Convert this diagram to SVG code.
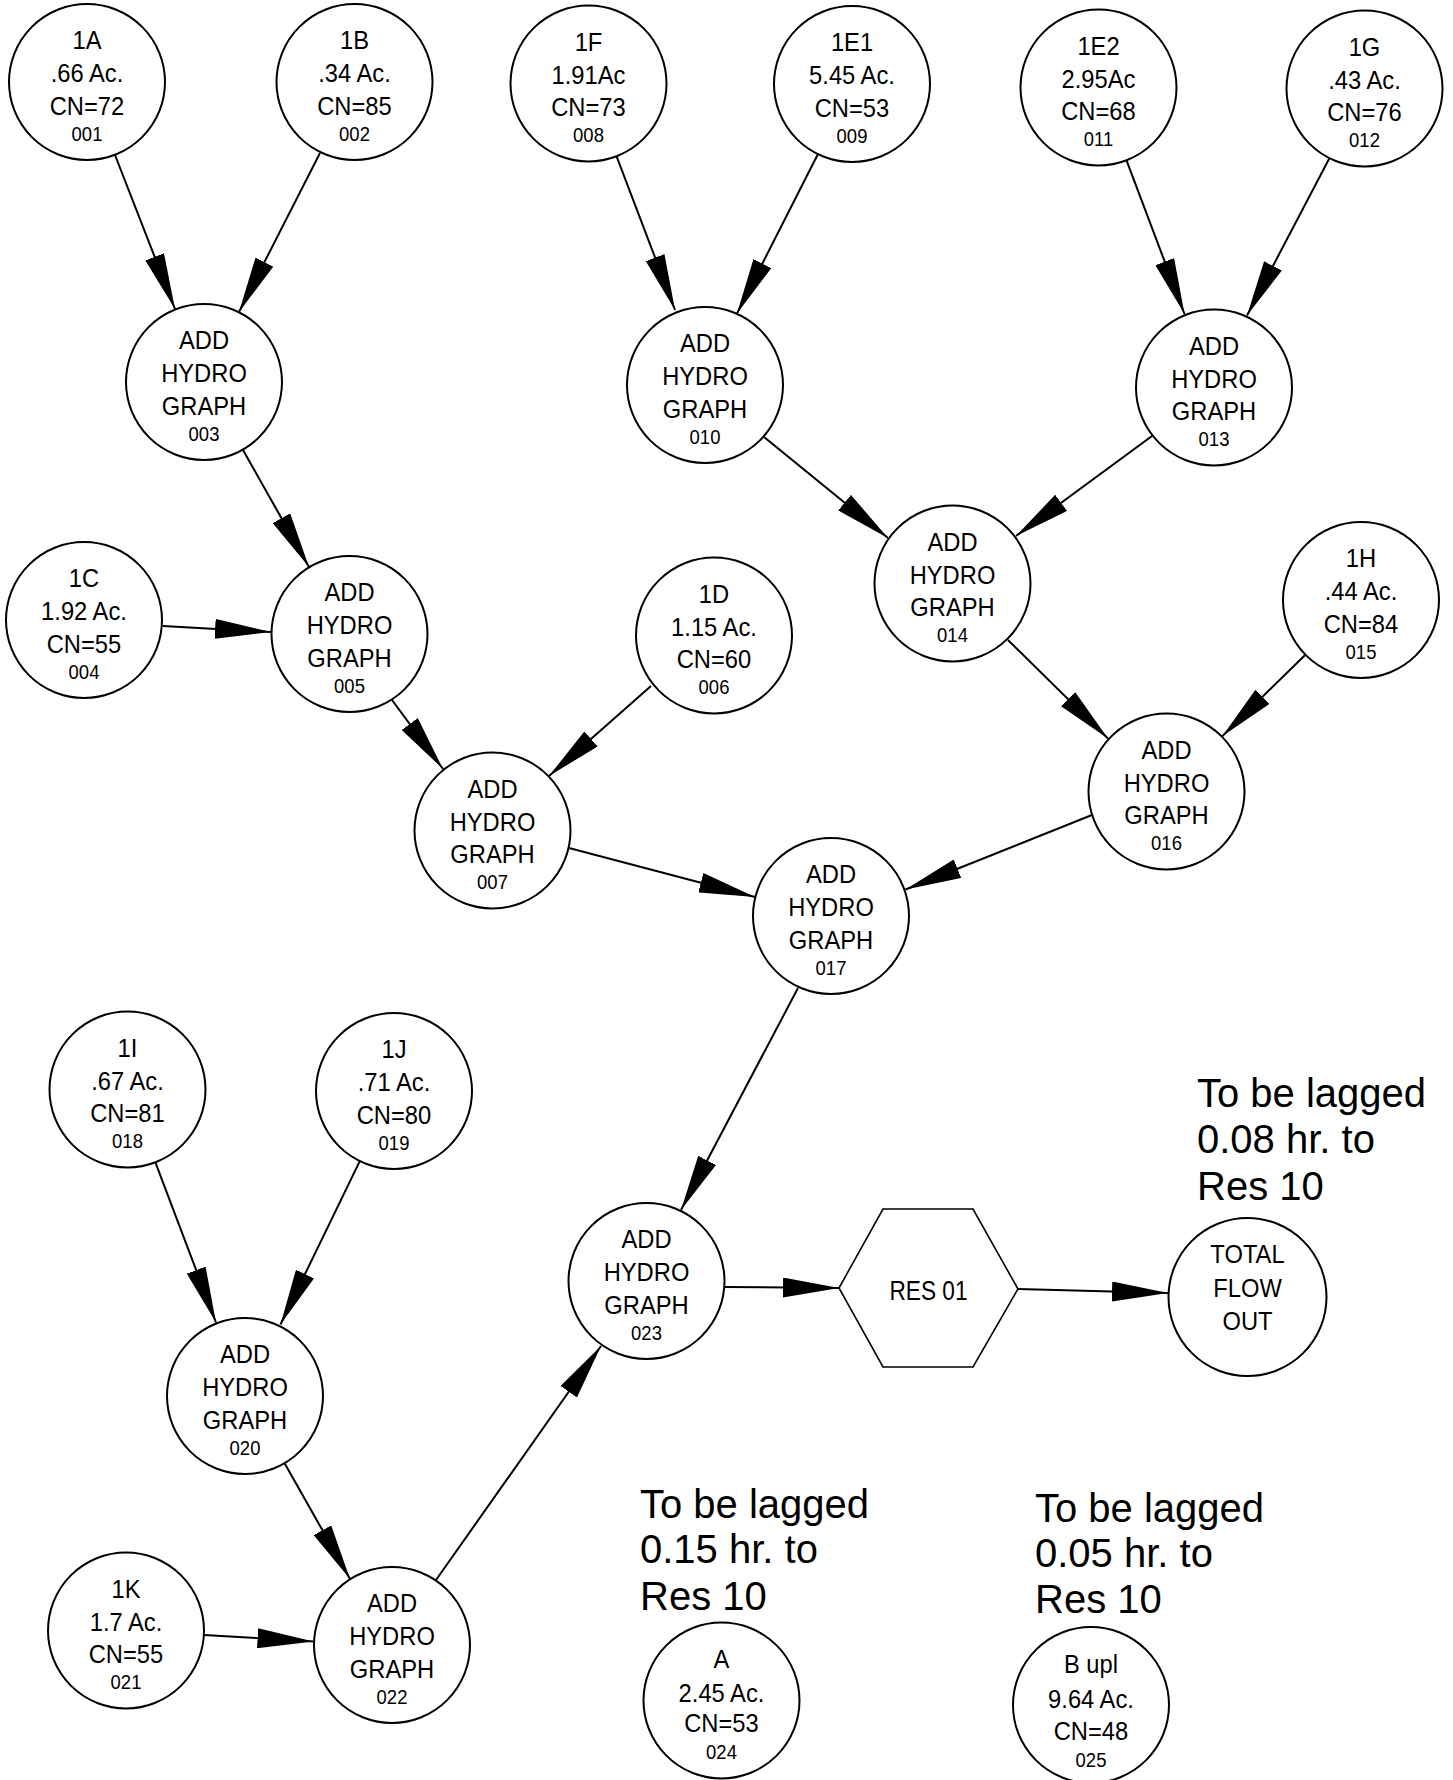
<svg xmlns="http://www.w3.org/2000/svg" width="1453" height="1780" viewBox="0 0 1453 1780">
  <style>
    .node circle { fill: #fff; stroke: #000; stroke-width: 2; }
    .node polygon { fill: #fff; stroke: #000; stroke-width: 1.6; }
    text { font-family: "Liberation Sans", Arial, sans-serif; fill: #000; }
    .node text { font-size: 25px; text-anchor: middle; transform: scaleX(0.95); }
    .node text.id { font-size: 21px; transform: scaleX(0.88); }
    .node text.plain { transform: none; }
    .note { font-size: 40px; text-anchor: start; }
    #edges line { stroke: #000; stroke-width: 2; marker-end: url(#arrow); }
  </style>
  <defs>
    <marker id="arrow" markerUnits="userSpaceOnUse" markerWidth="56" markerHeight="20" refX="56" refY="10" orient="auto">
      <path d="M0,0 L56,10 L0,20 z" fill="#000"/>
    </marker>
  </defs>
  <rect width="1453" height="1780" fill="#fff"/>

  <!-- flow connectors -->
  <g id="edges">
    <line x1="115" y1="155" x2="175" y2="309"/>
    <line x1="320" y1="153" x2="239" y2="312"/>
    <line x1="243" y1="450" x2="309" y2="567"/>
    <line x1="163" y1="626" x2="271" y2="632"/>
    <line x1="392" y1="700" x2="443" y2="769"/>
    <line x1="651" y1="686" x2="549" y2="776"/>
    <line x1="569" y1="848" x2="755" y2="897"/>
    <line x1="616.6" y1="156.3" x2="675" y2="310"/>
    <line x1="818" y1="154" x2="737" y2="313.5"/>
    <line x1="1126.5" y1="160.3" x2="1184.5" y2="314"/>
    <line x1="1329.4" y1="158.2" x2="1247" y2="315.5"/>
    <line x1="764" y1="437" x2="888" y2="538"/>
    <line x1="1152" y1="436" x2="1016" y2="536"/>
    <line x1="1008" y1="640" x2="1108" y2="738.5"/>
    <line x1="1305.4" y1="654.7" x2="1222.5" y2="736"/>
    <line x1="1092" y1="815" x2="905.5" y2="889.5"/>
    <line x1="798" y1="988" x2="681" y2="1210"/>
    <line x1="155.4" y1="1162.3" x2="216" y2="1322.5"/>
    <line x1="359.8" y1="1161.1" x2="280.5" y2="1324.5"/>
    <line x1="284.6" y1="1463.2" x2="350" y2="1579"/>
    <line x1="204" y1="1635" x2="313.5" y2="1641.5"/>
    <line x1="436" y1="1580" x2="601" y2="1346"/>
    <line x1="725" y1="1287" x2="839" y2="1288"/>
    <line x1="1018" y1="1289" x2="1168" y2="1293"/>
  </g>

  <!-- subbasins and hydrograph combinations -->
  <g id="n001" class="node" transform="translate(87,82)">
    <circle r="78"/>
    <text y="-33">1A</text><text y="0">.66 Ac.</text><text y="33">CN=72</text><text class="id" y="59">001</text>
  </g>
  <g id="n002" class="node" transform="translate(354.5,82)">
    <circle r="78"/>
    <text y="-33">1B</text><text y="0">.34 Ac.</text><text y="33">CN=85</text><text class="id" y="59">002</text>
  </g>
  <g id="n003" class="node" transform="translate(204,382)">
    <circle r="78"/>
    <text y="-33">ADD</text><text y="0">HYDRO</text><text y="33">GRAPH</text><text class="id" y="59">003</text>
  </g>
  <g id="n004" class="node" transform="translate(84,620)">
    <circle r="78"/>
    <text y="-33">1C</text><text y="0">1.92 Ac.</text><text y="33">CN=55</text><text class="id" y="59">004</text>
  </g>
  <g id="n005" class="node" transform="translate(349.5,634)">
    <circle r="78"/>
    <text y="-33">ADD</text><text y="0">HYDRO</text><text y="33">GRAPH</text><text class="id" y="59">005</text>
  </g>
  <g id="n006" class="node" transform="translate(714,635.5)">
    <circle r="78"/>
    <text y="-33">1D</text><text y="0">1.15 Ac.</text><text y="33">CN=60</text><text class="id" y="59">006</text>
  </g>
  <g id="n007" class="node" transform="translate(492.5,830.5)">
    <circle r="78"/>
    <text y="-33">ADD</text><text y="0">HYDRO</text><text y="33">GRAPH</text><text class="id" y="59">007</text>
  </g>
  <g id="n008" class="node" transform="translate(588.5,83.5)">
    <circle r="78"/>
    <text y="-33">1F</text><text y="0">1.91Ac</text><text y="33">CN=73</text><text class="id" y="59">008</text>
  </g>
  <g id="n009" class="node" transform="translate(852,84)">
    <circle r="78"/>
    <text y="-33">1E1</text><text y="0">5.45 Ac.</text><text y="33">CN=53</text><text class="id" y="59">009</text>
  </g>
  <g id="n010" class="node" transform="translate(705,385)">
    <circle r="78"/>
    <text y="-33">ADD</text><text y="0">HYDRO</text><text y="33">GRAPH</text><text class="id" y="59">010</text>
  </g>
  <g id="n011" class="node" transform="translate(1098.5,87.5)">
    <circle r="78"/>
    <text y="-33">1E2</text><text y="0">2.95Ac</text><text y="33">CN=68</text><text class="id" y="59">011</text>
  </g>
  <g id="n012" class="node" transform="translate(1364.5,88.5)">
    <circle r="78"/>
    <text y="-33">1G</text><text y="0">.43 Ac.</text><text y="33">CN=76</text><text class="id" y="59">012</text>
  </g>
  <g id="n013" class="node" transform="translate(1214,387.5)">
    <circle r="78"/>
    <text y="-33">ADD</text><text y="0">HYDRO</text><text y="33">GRAPH</text><text class="id" y="59">013</text>
  </g>
  <g id="n014" class="node" transform="translate(952.5,583.5)">
    <circle r="78"/>
    <text y="-33">ADD</text><text y="0">HYDRO</text><text y="33">GRAPH</text><text class="id" y="59">014</text>
  </g>
  <g id="n015" class="node" transform="translate(1361,600)">
    <circle r="78"/>
    <text y="-33">1H</text><text y="0">.44 Ac.</text><text y="33">CN=84</text><text class="id" y="59">015</text>
  </g>
  <g id="n016" class="node" transform="translate(1166.5,791.5)">
    <circle r="78"/>
    <text y="-33">ADD</text><text y="0">HYDRO</text><text y="33">GRAPH</text><text class="id" y="59">016</text>
  </g>
  <g id="n017" class="node" transform="translate(831,916)">
    <circle r="78"/>
    <text y="-33">ADD</text><text y="0">HYDRO</text><text y="33">GRAPH</text><text class="id" y="59">017</text>
  </g>
  <g id="n018" class="node" transform="translate(127.5,1089.5)">
    <circle r="78"/>
    <text y="-33">1I</text><text y="0">.67 Ac.</text><text y="33">CN=81</text><text class="id" y="59">018</text>
  </g>
  <g id="n019" class="node" transform="translate(394,1091)">
    <circle r="78"/>
    <text y="-33">1J</text><text y="0">.71 Ac.</text><text y="33">CN=80</text><text class="id" y="59">019</text>
  </g>
  <g id="n020" class="node" transform="translate(245,1396)">
    <circle r="78"/>
    <text y="-33">ADD</text><text y="0">HYDRO</text><text y="33">GRAPH</text><text class="id" y="59">020</text>
  </g>
  <g id="n021" class="node" transform="translate(126,1630.5)">
    <circle r="78"/>
    <text y="-33">1K</text><text y="0">1.7 Ac.</text><text y="33">CN=55</text><text class="id" y="59">021</text>
  </g>
  <g id="n022" class="node" transform="translate(392,1645)">
    <circle r="78"/>
    <text y="-33">ADD</text><text y="0">HYDRO</text><text y="33">GRAPH</text><text class="id" y="59">022</text>
  </g>
  <g id="n023" class="node" transform="translate(646.5,1281)">
    <circle r="78"/>
    <text y="-33">ADD</text><text y="0">HYDRO</text><text y="33">GRAPH</text><text class="id" y="59">023</text>
  </g>
  <g id="res01" class="node">
    <polygon points="839,1288 883,1209 973,1209 1018,1289 973,1367 883,1367"/>
    <text class="plain" x="928.5" y="1300" textLength="78" lengthAdjust="spacingAndGlyphs" style="font-size:27px">RES 01</text>
  </g>
  <g id="total" class="node" transform="translate(1247.5,1297)">
    <circle r="79"/>
    <text y="-34">TOTAL</text><text y="0">FLOW</text><text y="33">OUT</text>
  </g>
  <g id="n024" class="node" transform="translate(721.5,1700.5)">
    <circle r="78"/>
    <text y="-33">A</text><text y="1">2.45 Ac.</text><text y="32">CN=53</text><text class="id" y="59">024</text>
  </g>
  <g id="n025" class="node" transform="translate(1091,1705)">
    <circle r="78"/>
    <text y="-32">B upl</text><text y="3">9.64 Ac.</text><text y="35">CN=48</text><text class="id" y="62">025</text>
  </g>

  <!-- lag notes -->
  <g id="notes">
    <text class="note" x="1197" y="1107">To be lagged</text>
    <text class="note" x="1197" y="1153">0.08 hr. to</text>
    <text class="note" x="1197" y="1200">Res 10</text>
    <text class="note" x="640" y="1518">To be lagged</text>
    <text class="note" x="640" y="1563">0.15 hr. to</text>
    <text class="note" x="640" y="1610">Res 10</text>
    <text class="note" x="1035" y="1522">To be lagged</text>
    <text class="note" x="1035" y="1567">0.05 hr. to</text>
    <text class="note" x="1035" y="1613">Res 10</text>
  </g>
</svg>
